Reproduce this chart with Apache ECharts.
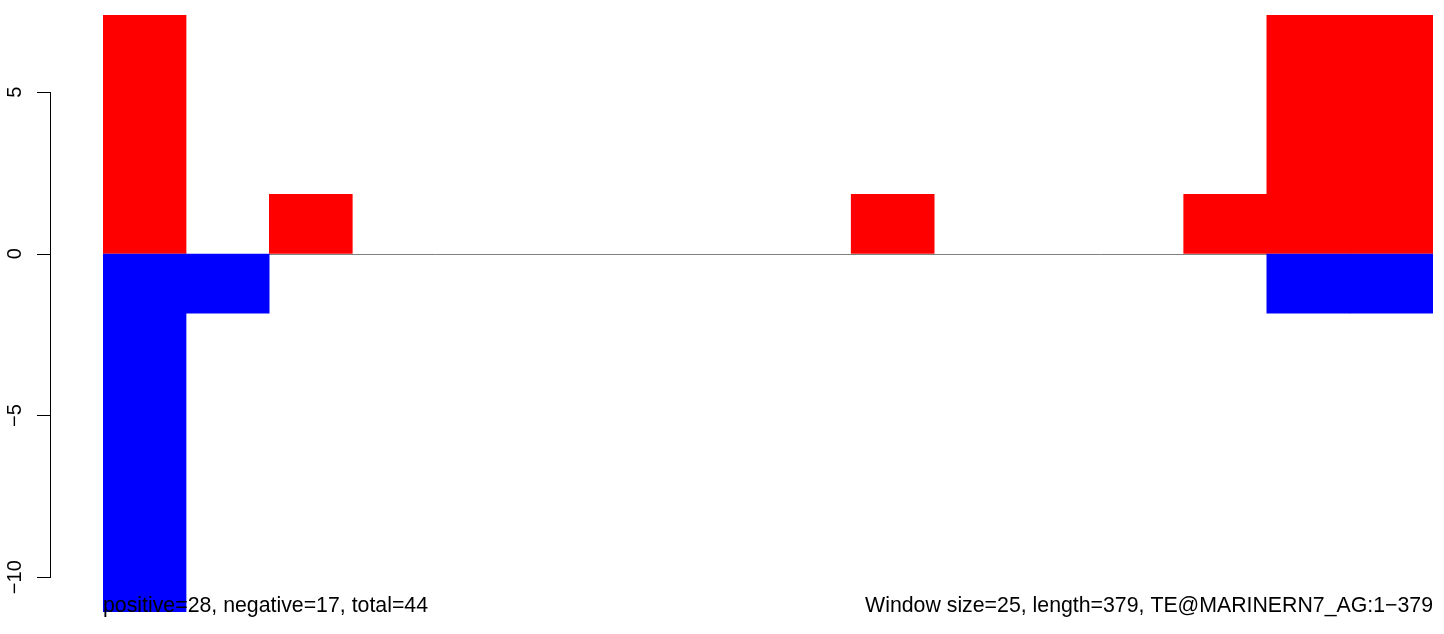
<!DOCTYPE html>
<html>
<head>
<meta charset="utf-8">
<script src="https://cdn.jsdelivr.net/npm/echarts@6/dist/echarts.min.js"></script>
<style>
html,body{margin:0;padding:0;background:#ffffff;}
#chart{width:1444px;height:634px;}
</style>
</head>
<body>
<div id="chart"></div>
<script>
// ---- data; null = empty window ----
const windowLabels = ['1','26','51','76','101','126','151','176','201','226','251','276','301','326','351','376'];
const positiveValues = [7.385, null, 1.846, null, null, null, null, null, null, 1.846, null, null, null, 1.846, 7.385, 7.385];
const negativeValues = [-11.077, -1.846, null, null, null, null, null, null, null, null, null, null, null, null, -1.846, -1.846];
const yTicks = [-10, -5, 0, 5];
const yMin = -11.077;
const yMax = 7.385;
const leftNote = 'positive=28, negative=17, total=44';
const rightNote = 'Window size=25, length=379, TE@MARINERN7_AG:1\u2212379';

const FONT = '"Liberation Sans", Arial, Helvetica, sans-serif';
const AXIS_OFFSET = 52;

const chart = echarts.init(document.getElementById('chart'), null, {renderer: 'canvas'});

const option = {
  backgroundColor: '#ffffff',
  animation: false,
  grid: {left: 103, right: 11, top: 15, bottom: 22, containLabel: false},
  xAxis: {
    type: 'category',
    data: windowLabels,
    show: false,
    boundaryGap: true
  },
  yAxis: {
    type: 'value',
    min: yMin,
    max: yMax,
    offset: AXIS_OFFSET,
    splitLine: {show: false},
    axisLine: {show: false},
    axisTick: {
      show: true,
      customValues: yTicks,
      length: 14,
      lineStyle: {color: '#000000', width: 1}
    },
    axisLabel: {
      show: true,
      customValues: yTicks,
      rotate: 90,
      margin: 26,
      fontSize: 20,
      fontFamily: FONT,
      color: '#000000',
      formatter: function (v) { return String(v).replace('-', '\u2212'); }
    }
  },
  series: [
    {
      name: 'frame',
      type: 'custom',
      silent: true,
      z: 1,
      clip: false,
      data: [[0, 0]],
      renderItem: function (params, api) {
        const cs = params.coordSys;
        const a = api.coord([0, yTicks[0]]);
        const b = api.coord([0, yTicks[yTicks.length - 1]]);
        const z0 = api.coord([0, 0]);
        const ax = cs.x - AXIS_OFFSET - 0.5;
        return {
          type: 'group',
          children: [
            {type: 'line', shape: {x1: ax, y1: a[1], x2: ax, y2: b[1]},
             style: {stroke: '#000000', lineWidth: 1}},
            {type: 'line', shape: {x1: cs.x, y1: Math.round(z0[1]) + 0.5, x2: cs.x + cs.width, y2: Math.round(z0[1]) + 0.5},
             style: {stroke: '#808080', lineWidth: 1}}
          ]
        };
      }
    },
    {
      name: 'positive',
      type: 'bar',
      stack: 'w',
      data: positiveValues,
      barWidth: '100.6%',
      itemStyle: {color: '#ff0000'},
      z: 2
    },
    {
      name: 'negative',
      type: 'bar',
      stack: 'w',
      data: negativeValues,
      barWidth: '100.6%',
      itemStyle: {color: '#0000ff'},
      z: 2
    }
  ],
  graphic: [
    {
      type: 'text', z: 100, x: 103, y: 617,
      style: {text: leftNote, font: '21.3px ' + FONT, fill: '#000000', textAlign: 'left', textVerticalAlign: 'bottom'}
    },
    {
      type: 'text', z: 100, x: 1433, y: 617,
      style: {text: rightNote, font: '21.3px ' + FONT, fill: '#000000', textAlign: 'right', textVerticalAlign: 'bottom'}
    }
  ]
};

chart.setOption(option);
</script>
</body>
</html>
